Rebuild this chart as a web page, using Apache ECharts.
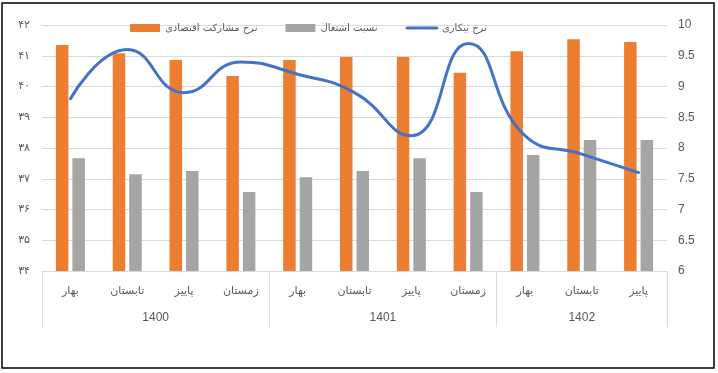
<!DOCTYPE html>
<html>
<head>
<meta charset="utf-8">
<script src="https://cdn.jsdelivr.net/npm/echarts@6/dist/echarts.min.js"></script>
<style>
html,body{margin:0;padding:0;background:#fff;}
#c{width:718px;height:373px;}
</style>
</head>
<body>
<div id="c"></div>
<script>
var seasons = ['بهار','تابستان','پاییز','زمستان','بهار','تابستان','پاییز','زمستان','بهار','تابستان','پاییز'];
var years = ['1400','1401','1402'];
var yearSpans = [4,4,3];
var participation = [41.35, 41.08, 40.86, 40.34, 40.86, 40.96, 40.96, 40.45, 41.15, 41.54, 41.45];
var employment = [37.67, 37.15, 37.25, 36.57, 37.05, 37.25, 37.67, 36.57, 37.77, 38.26, 38.26];
var unemployment = [8.8, 9.6, 8.9, 9.4, 9.2, 8.9, 8.2, 9.7, 8.2, 7.9, 7.6];
var seriesNames = ['نرخ مشارکت اقتصادی','نسبت اشتغال','نرخ بیکاری'];

var faDigits = '۰۱۲۳۴۵۶۷۸۹';
function toFa(v){ return String(v).replace(/[0-9]/g, function(d){ return faDigits[+d]; }); }

var yearBounds = [0], yearCenters = [];
(function(){
  var acc = 0;
  for (var i = 0; i < yearSpans.length; i++) {
    yearCenters.push(acc + yearSpans[i] / 2);
    acc += yearSpans[i];
    yearBounds.push(acc);
  }
})();

var txt = '#595959';
var fa = "'DejaVu Sans', sans-serif";
var chart = echarts.init(document.getElementById('c'), null, {renderer:'canvas'});
chart.setOption({
  animation:false,
  textStyle:{fontFamily:fa},
  graphic:[{type:'rect', shape:{x:2,y:3,width:712,height:365}, style:{fill:'none', stroke:'#000', lineWidth:1.5}, z:100}],
  legend:{
    top:18, left:125, itemGap:28, itemWidth:30, itemHeight:8,
    textStyle:{color:txt, fontSize:10, fontFamily:fa},
    data:[
      {name:seriesNames[0], icon:'rect'},
      {name:seriesNames[1], icon:'rect'},
      {name:seriesNames[2], itemStyle:{opacity:0, color:'rgba(0,0,0,0)', borderWidth:0}, lineStyle:{width:3, color:'#4472C4', cap:'round'}}
    ]
  },
  grid:{left:42, right:51, top:25, bottom:102, containLabel:false},
  xAxis:[
    {type:'category', data:seasons, boundaryGap:true,
     axisLine:{lineStyle:{color:'#D9D9D9'}}, axisTick:{show:false},
     axisLabel:{color:txt, fontSize:11, margin:15, fontFamily:fa}},
    {type:'value', min:0, max:seasons.length, position:'bottom',
     axisLine:{show:false}, splitLine:{show:false},
     axisTick:{show:true, customValues:yearBounds, length:56, lineStyle:{color:'#D9D9D9'}},
     axisLabel:{customValues:yearCenters, margin:41, color:txt, fontSize:12, fontFamily:"'Liberation Sans', sans-serif",
       formatter:function(v){ var i = yearCenters.indexOf(v); return i >= 0 ? years[i] : ''; }}}
  ],
  yAxis:[
    {type:'value', min:34, max:42, interval:1, position:'left',
     axisLine:{show:false}, axisTick:{show:false},
     splitLine:{lineStyle:{color:'#D9D9D9'}},
     axisLabel:{color:txt, fontSize:11, margin:12, formatter:function(v){return toFa(v);}}},
    {type:'value', min:6, max:10, interval:0.5, position:'right',
     axisLine:{show:false}, axisTick:{show:false}, splitLine:{show:false},
     axisLabel:{color:txt, fontSize:12, margin:11, fontFamily:"'Liberation Sans', sans-serif"}}
  ],
  series:[
    {name:seriesNames[0], type:'bar', data:participation, yAxisIndex:0, barWidth:12.5, barGap:'32%', itemStyle:{color:'#ED7D31'}},
    {name:seriesNames[1], type:'bar', data:employment, yAxisIndex:0, barWidth:12.5, itemStyle:{color:'#A5A5A5'}},
    {name:seriesNames[2], type:'line', data:unemployment, yAxisIndex:1, smooth:0.5, symbol:'none',
     lineStyle:{color:'#4472C4', width:3, cap:'round'}, itemStyle:{color:'#4472C4'}, z:5}
  ]
});
</script>
</body>
</html>
